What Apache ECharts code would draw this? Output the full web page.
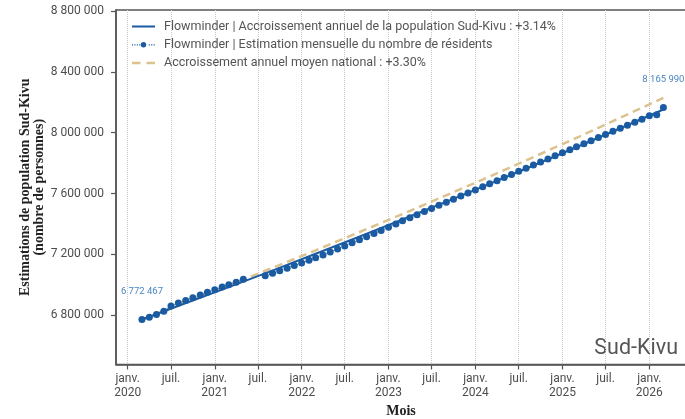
<!DOCTYPE html>
<html>
<head>
<meta charset="utf-8">
<script src="https://cdn.jsdelivr.net/npm/echarts@6/dist/echarts.min.js"></script>
<style>
html,body{margin:0;padding:0;background:#fff;}
#chart{width:685px;height:419px;}
</style>
</head>
<body>
<div id="chart"></div>
<script>
// ---- Data ----
const monthDates = [
  '2020-03-01','2020-04-01','2020-05-01','2020-06-01','2020-07-01','2020-08-01','2020-09-01','2020-10-01','2020-11-01','2020-12-01',
  '2021-01-01','2021-02-01','2021-03-01','2021-04-01','2021-05-01','2021-06-01','2021-07-01','2021-08-01','2021-09-01','2021-10-01','2021-11-01','2021-12-01',
  '2022-01-01','2022-02-01','2022-03-01','2022-04-01','2022-05-01','2022-06-01','2022-07-01','2022-08-01','2022-09-01','2022-10-01','2022-11-01','2022-12-01',
  '2023-01-01','2023-02-01','2023-03-01','2023-04-01','2023-05-01','2023-06-01','2023-07-01','2023-08-01','2023-09-01','2023-10-01','2023-11-01','2023-12-01',
  '2024-01-01','2024-02-01','2024-03-01','2024-04-01','2024-05-01','2024-06-01','2024-07-01','2024-08-01','2024-09-01','2024-10-01','2024-11-01','2024-12-01',
  '2025-01-01','2025-02-01','2025-03-01','2025-04-01','2025-05-01','2025-06-01','2025-07-01','2025-08-01','2025-09-01','2025-10-01','2025-11-01','2025-12-01',
  '2026-01-01','2026-02-01','2026-03-01'
];
const monthlyResidents = [
  6772467, 6787000, 6806000, 6827000, 6861000, 6880000, 6898000, 6916000, 6934000, 6951000,
  6968000, 6986000, 7000000, 7018000, 7037000, null, null, 7060000, 7077000, 7093000, 7110000, 7127000,
  7144000, 7161000, 7179000, 7197000, 7216000, 7236000, 7256000, 7277000, 7297000, 7317000, 7338000, 7358000,
  7379000, 7400000, 7421000, 7441000, 7461000, 7482000, 7502000, 7523000, 7543000, 7563000, 7584000, 7604000,
  7624000, 7645000, 7665000, 7685000, 7706000, 7726000, 7747000, 7767000, 7788000, 7808000, 7828000, 7848000,
  7868000, 7888000, 7908000, 7928000, 7948000, 7969000, 7989000, 8009000, 8029000, 8049000, 8069000, 8089000,
  8111000, 8118000, 8165990
];
const trendDates = ['2020-03-01','2021-03-01','2022-03-01','2023-03-01','2024-03-01','2025-03-01','2026-03-01'];
const provincialTrend = [6772467, 6985122, 7204455, 7430675, 7663998, 7904648, 8152854];
const nationalTrend   = [6772467, 6995958, 7226825, 7465310, 7711665, 7966150, 8229033];

const xTickDates = ['2020-01-01','2020-07-01','2021-01-01','2021-07-01','2022-01-01','2022-07-01','2023-01-01',
                    '2023-07-01','2024-01-01','2024-07-01','2025-01-01','2025-07-01','2026-01-01'];
const xTickLabels = ['janv.\n2020','juil.','janv.\n2021','juil.','janv.\n2022','juil.','janv.\n2023',
                     'juil.','janv.\n2024','juil.','janv.\n2025','juil.','janv.\n2026'];
const yTickValues = [6800000, 7200000, 7600000, 8000000, 8400000, 8800000];

const seriesNames = [
  'Flowminder | Accroissement annuel de la population Sud-Kivu : +3.14%',
  'Flowminder | Estimation mensuelle du nombre de résidents',
  'Accroissement annuel moyen national : +3.30%'
];

// ---- Helpers ----
const ts = s => Date.parse(s + 'T00:00:00Z');
const fmt = n => String(Math.round(n)).replace(/\B(?=(\d{3})+(?!\d))/g, ' ');
const tickTs = xTickDates.map(ts);

const BLUE = '#1a5ba2';
const TAN = '#dcc28f';
const GREY = '#4d4d4d';

// legend glyphs (shape only)
let dots = '';
for (let x = 0; x < 23; x += 2.4) { if (x < 8 || x > 14.5) dots += 'M' + x.toFixed(1) + ',-0.5h1.1v1.1h-1.1z '; }
const ICON_SOLID = 'path://M0,-2.7h0.01v5.4h-0.01z M0,-1h23v2h-23z M22.99,-2.7h0.01v5.4h-0.01z';
const ICON_DOTS = 'path://' + dots + 'M8.8,0a2.7,2.7 0 1,0 5.4,0a2.7,2.7 0 1,0 -5.4,0z M22.99,-2.7h0.01v5.4h-0.01z';
const ICON_DASH = 'path://M0,-2.7h0.01v5.4h-0.01z M0,-1.25h8.5v2.5h-8.5z M14.5,-1.25h8.5v2.5h-8.5z M22.99,-2.7h0.01v5.4h-0.01z';

const lastIdx = monthlyResidents.length - 1;
const monthlyData = monthDates.map((d, i) => {
  const item = { value: [ts(d), monthlyResidents[i]] };
  if (i === 0 || i === lastIdx) {
    item.label = { show: true, formatter: fmt(monthlyResidents[i]) };
  }
  return item;
});

const chart = echarts.init(document.getElementById('chart'), null, { renderer: 'canvas' });
chart.setOption({
  animation: false,
  backgroundColor: '#fff',
  grid: { left: 116, top: 10, right: -1, bottom: 54.5, outerBoundsMode: 'none', containLabel: false,
          show: true, borderColor: '#555', borderWidth: 1.5, backgroundColor: 'transparent' },
  legend: {
    left: 132, top: 20, orient: 'vertical', padding: 0,
    itemWidth: 23, itemHeight: 13, itemGap: 5.3,
    data: [
      { name: seriesNames[0], icon: ICON_SOLID },
      { name: seriesNames[1], icon: ICON_DOTS },
      { name: seriesNames[2], icon: ICON_DASH }
    ],
    textStyle: { fontFamily: 'Roboto', fontSize: 12.5, color: '#555', padding: [0, 0, 0, 4] }
  },
  xAxis: {
    type: 'value',
    min: ts('2019-11-13'), max: ts('2026-06-04'),
    name: 'Mois', nameLocation: 'middle', nameGap: 40, nameMoveOverlap: false,
    nameTextStyle: { fontFamily: 'Liberation Serif', fontWeight: 'bold', fontSize: 14, color: '#222' },
    axisLine: { show: true, lineStyle: { color: '#555', width: 1.5 } },
    axisTick: { show: true, length: 5, customValues: tickTs, lineStyle: { color: '#555', width: 1.2 } },
    axisLabel: {
      customValues: tickTs, margin: 7,
      fontFamily: 'Roboto', fontSize: 12, lineHeight: 14, color: GREY,
      formatter: v => { const k = tickTs.indexOf(v); return k >= 0 ? xTickLabels[k] : ''; }
    },
    splitLine: { show: true, lineStyle: { type: 'dotted', color: '#c8c8c8', width: 1 } }
  },
  yAxis: {
    type: 'value',
    min: 6476600, max: 8806600,
    name: 'Estimations de population Sud-Kivu\n(nombre de personnes)',
    nameLocation: 'middle', nameGap: 69, nameRotate: 90, nameMoveOverlap: false,
    nameTextStyle: { fontFamily: 'Liberation Serif', fontWeight: 'bold', fontSize: 14, lineHeight: 14.5, color: '#222' },
    axisLine: { show: true, lineStyle: { color: '#555', width: 1.5 } },
    axisTick: { show: true, length: 5, customValues: yTickValues, lineStyle: { color: '#555', width: 1.2 } },
    axisLabel: { customValues: yTickValues, margin: 12, fontFamily: 'Roboto', fontSize: 12, color: GREY, formatter: v => fmt(v) },
    splitLine: { show: false }
  },
  series: [
    {
      name: seriesNames[2], type: 'line', z: 2,
      data: trendDates.map((d, i) => [ts(d), nationalTrend[i]]),
      symbol: 'none', smooth: false,
      lineStyle: { color: TAN, width: 2.5, type: [8, 5] },
      itemStyle: { color: TAN }
    },
    {
      name: seriesNames[1], type: 'line', z: 3,
      data: monthlyData,
      connectNulls: false,
      symbol: 'circle', symbolSize: 7, showSymbol: true,
      lineStyle: { color: BLUE, width: 1, type: 'dotted' },
      itemStyle: { color: BLUE },
      label: { show: false, position: 'top', distance: 19, fontFamily: 'Roboto', fontSize: 9.5, color: '#4a86c0' }
    },
    {
      name: seriesNames[0], type: 'line', z: 4,
      data: trendDates.map((d, i) => [ts(d), provincialTrend[i]]),
      symbol: 'none', smooth: true,
      lineStyle: { color: BLUE, width: 2 },
      itemStyle: { color: BLUE }
    }
  ],
  graphic: [
    { type: 'text', right: 7, top: 338, style: { text: 'Sud-Kivu', fontFamily: 'Roboto', fontSize: 21.5, fill: '#555' } }
  ]
});
</script>
</body>
</html>
